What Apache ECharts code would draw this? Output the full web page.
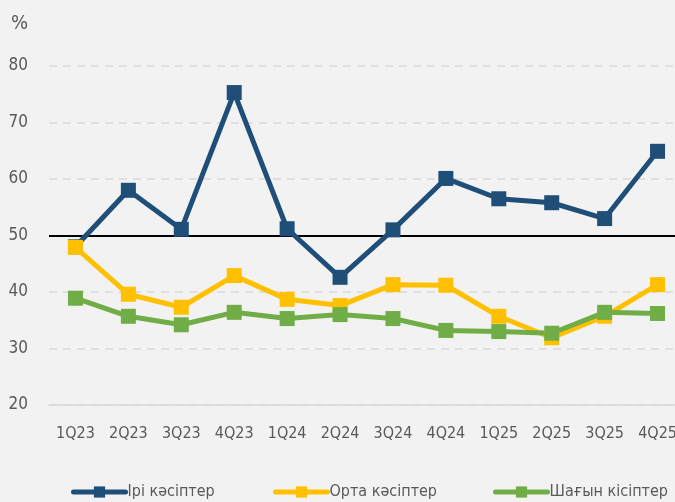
<!DOCTYPE html>
<html>
<head>
<meta charset="utf-8">
<script src="https://cdn.jsdelivr.net/npm/echarts@6/dist/echarts.min.js"></script>
<style>
  html, body { margin: 0; padding: 0; background: #f2f2f2; overflow: hidden; }
  #chart { width: 684px; height: 502px; }
</style>
</head>
<body>
<div id="chart"></div>
<script>
// кварталдар
const categories = ['1Q23', '2Q23', '3Q23', '4Q23', '1Q24', '2Q24', '3Q24', '4Q24', '1Q25', '2Q25', '3Q25', '4Q25']
// серия мәндері, %
const large = [48.0, 58.0, 51.1, 75.3, 51.2, 42.6, 51.0, 60.1, 56.5, 55.8, 53.0, 64.9]
const medium = [47.9, 39.6, 37.3, 42.9, 38.7, 37.6, 41.3, 41.2, 35.7, 31.9, 35.7, 41.3]
const small = [38.9, 35.7, 34.2, 36.4, 35.3, 36.0, 35.3, 33.2, 33.0, 32.7, 36.4, 36.2]
const seriesNames = ['Ірі кәсіптер', 'Орта кәсіптер', 'Шағын кісіптер']
const colors = ['#1f4e79', '#ffc000', '#70ad47']

const font = '"DejaVu Sans Condensed", "Liberation Sans Narrow", sans-serif'
// сурет терезеден сәл кең: соңғы санат шетке шығып тұрады
const chart = echarts.init(document.getElementById('chart'), null, { renderer: 'canvas' })

const mkSeries = (name, data, color, extra) => Object.assign({
  name: name,
  type: 'line',
  data: data,
  symbol: 'rect',
  symbolSize: 15,
  lineStyle: { color: color, width: 5 },
  itemStyle: { color: color },
  z: 3
}, extra || {})

// легенда: әр элемент өз орнында
const mkLegend = (name, left) => ({
  left: left,
  top: 479,
  itemWidth: 52,
  itemHeight: 14,
  lineStyle: { width: 5, cap: 'round' },
  textStyle: { color: '#595959', fontSize: 16, fontFamily: font, padding: [0, 0, 0, -3] },
  data: [name]
})

chart.setOption({
  backgroundColor: '#f2f2f2',
  animation: false,
  textStyle: { fontFamily: font },
  grid: { left: 49, right: 0, top: 66, bottom: 97 },
  legend: [
    mkLegend(seriesNames[0], 66),
    mkLegend(seriesNames[1], 268),
    mkLegend(seriesNames[2], 488)
  ],
  xAxis: {
    type: 'category',
    data: categories,
    boundaryGap: true,
    axisLine: { show: true, lineStyle: { color: '#d9d9d9', width: 1.5 } },
    axisTick: { show: false },
    axisLabel: { color: '#595959', fontSize: 16, margin: 21, interval: 0 }
  },
  yAxis: {
    type: 'value',
    min: 20,
    max: 80,
    interval: 10,
    name: '%',
    nameLocation: 'end',
    nameGap: 32,
    nameTextStyle: { color: '#595959', fontSize: 20, align: 'right', padding: [0, 21, 0, 0] },
    axisLine: { show: false },
    axisTick: { show: false },
    axisLabel: { color: '#595959', fontSize: 17, margin: 21 },
    splitLine: { lineStyle: { color: '#d9d9d9', width: 1.5, type: [8, 6] } }
  },
  series: [
    mkSeries(seriesNames[0], large, colors[0], {
      markLine: {
        silent: true,
        symbol: 'none',
        label: { show: false },
        lineStyle: { color: '#000', width: 2, type: 'solid' },
        data: [{ yAxis: 50 }],
        z: 2
      }
    }),
    mkSeries(seriesNames[1], medium, colors[1]),
    mkSeries(seriesNames[2], small, colors[2])
  ]
})
</script>
</body>
</html>
